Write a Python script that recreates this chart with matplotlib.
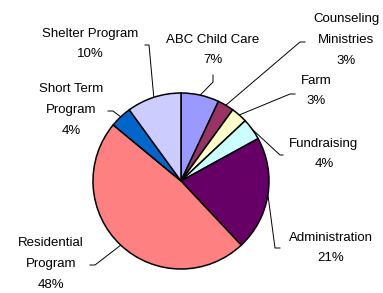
import numpy as np
import matplotlib.pyplot as plt

# slice data, clockwise from 12 o'clock
categories = ["ABC Child Care", "Counseling\nMinistries", "Farm", "Fundraising",
              "Administration", "Residential\nProgram", "Short Term\nProgram", "Shelter Program"]
shares = [7, 3, 3, 4, 21, 48, 4, 10]
colors = ["#9999FF", "#993366", "#FFFFCC", "#CCFFFF",
          "#660066", "#FF8080", "#0066CC", "#CCCCFF"]

W, H = 383, 293
cx, cy, rad = 181, 181, 88

# label block centres and leader elbows, in pixels from top-left
label_pos = [(213, 50), (346, 40), (316, 91), (324, 154),
             (331, 248), (51, 264), (71, 110), (90, 44)]
elbows = [[(213, 82), (213, 75)], [(300, 42), (305, 42)], [(290, 94), (295, 94)],
          [(280, 155), (283, 155)], [(275, 248), (280, 248)], [(95, 265), (90, 265)],
          [(113, 111), (108, 111)], [(149, 45), (145, 45)]]

plt.rcParams['font.family'] = ['Liberation Sans', 'DejaVu Sans']

fig = plt.figure(figsize=(W / 100, H / 100), dpi=100)
ax = fig.add_axes([0, 0, 1, 1])

wedges, _ = ax.pie(shares, colors=colors, startangle=90, counterclock=False,
                   center=(cx, H - cy), radius=rad, frame=True,
                   wedgeprops=dict(edgecolor='black', linewidth=1.1))
ax.set_xlim(0, W)
ax.set_ylim(0, H)
ax.set_aspect('equal')
ax.axis('off')

for w, name, val, (tx, ty), elb in zip(wedges, categories, shares, label_pos, elbows):
    mid = np.deg2rad((w.theta1 + w.theta2) / 2)
    ex = cx + rad * np.cos(mid)
    ey = H - cy + rad * np.sin(mid)
    xs = [ex] + [p[0] for p in elb]
    ys = [ey] + [H - p[1] for p in elb]
    ax.plot(xs, ys, color='black', lw=0.7)
    ax.text(tx, H - ty, f"{name}\n{val}%", ha='center', va='center',
            fontsize=9.5, linespacing=1.95)

fig.savefig('out.png', dpi=100)
